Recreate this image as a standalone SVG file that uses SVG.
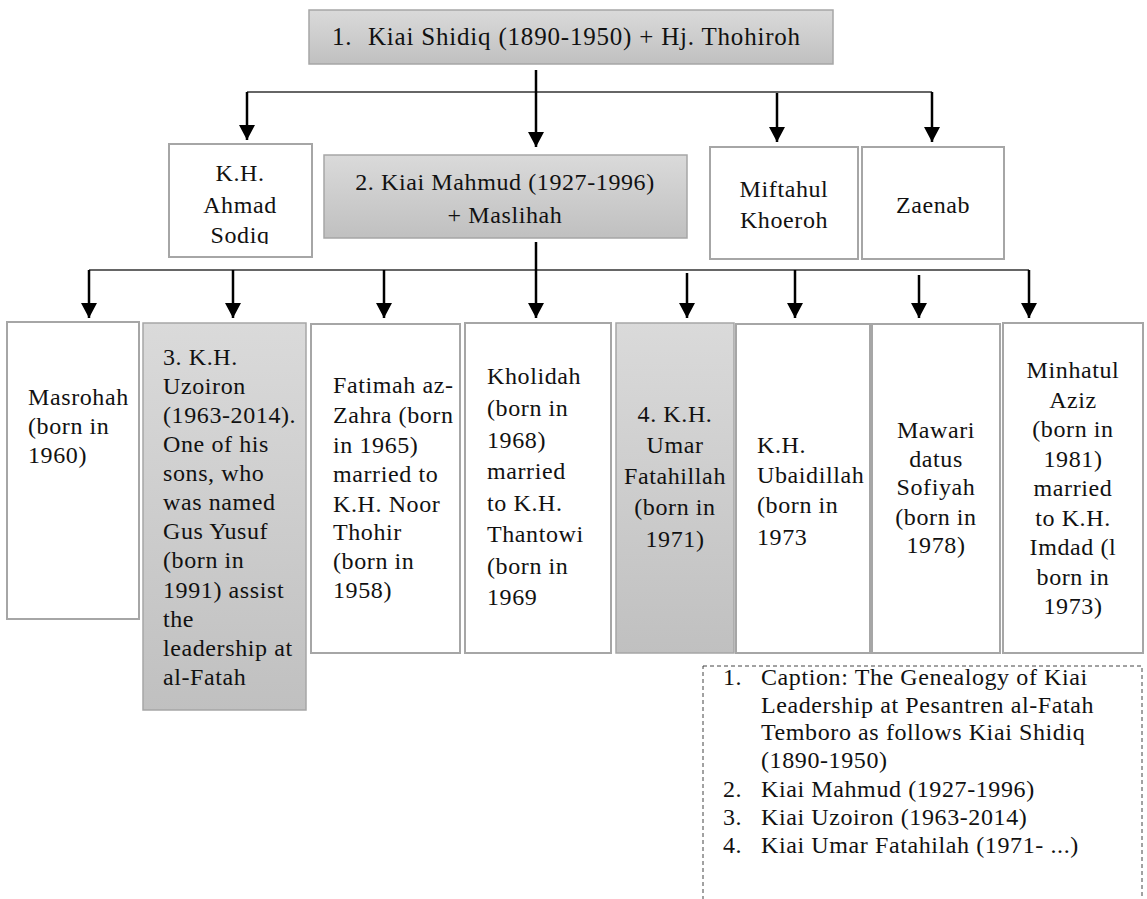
<svg xmlns="http://www.w3.org/2000/svg" width="1147" height="899" viewBox="0 0 1147 899">
<defs>
<linearGradient id="g" x1="0" y1="0" x2="0" y2="1">
<stop offset="0" stop-color="#dadada"/>
<stop offset="1" stop-color="#c0c0c0"/>
</linearGradient>
<marker id="ah" markerUnits="userSpaceOnUse" markerWidth="17" markerHeight="17" refX="15" refY="8" orient="auto">
<path d="M0,0 L15,8 L0,16 z" fill="#000"/>
</marker>
<clipPath id="clipA"><rect x="169" y="144" width="143" height="100"/></clipPath>
</defs>
<style>
.box{fill:#fff;stroke:#a6a6a6;stroke-width:2}
.gbox{fill:url(#g);stroke:#a6a6a6;stroke-width:1.5}
.bus{fill:none;stroke:#333;stroke-width:1.5}
.arr{fill:none;stroke:#000;stroke-width:2.5;marker-end:url(#ah)}
text{font-family:"Liberation Serif","Times New Roman",serif;font-size:24px;fill:#111;letter-spacing:0.6px}
.c{text-anchor:middle}
.title{font-size:25px;letter-spacing:0.8px}
.cap{fill:none;stroke:#444;stroke-width:1;stroke-dasharray:4,3}
</style>
<g id="connectors">
<path class="bus" d="M247,92 H932"/>
<path class="arr" d="M247,92 V140"/>
<path class="arr" d="M536,70 V147"/>
<path class="arr" d="M777,93 V142"/>
<path class="arr" d="M932,92 V142"/>
<path class="bus" d="M89,270 H1029"/>
<path class="arr" d="M536,242 V318"/>
<path class="arr" d="M89,270 V318"/>
<path class="arr" d="M233,270 V318"/>
<path class="arr" d="M384,270 V318"/>
<path class="arr" d="M687,273 V318"/>
<path class="arr" d="M795,270 V318"/>
<path class="arr" d="M919,275 V318"/>
<path class="arr" d="M1029,270 V318"/>
</g>
<g id="n-shidiq">
<rect class="gbox" x="309" y="10" width="524" height="54"/>
<text class="title" x="332" y="45">1.</text>
<text class="title" x="368" y="45">Kiai Shidiq (1890-1950) + Hj. Thohiroh</text>
</g>
<g id="n-ahmad">
<rect class="box" x="169" y="144" width="143" height="113"/>
<g clip-path="url(#clipA)">
<text class="c" x="240" y="181">K.H.</text>
<text class="c" x="240" y="213">Ahmad</text>
<text class="c" x="240" y="243">Sodiq</text>
</g>
</g>
<g id="n-mahmud">
<rect class="gbox" x="324" y="155" width="363" height="83"/>
<text class="c" x="505" y="190">2. Kiai Mahmud (1927-1996)</text>
<text class="c" x="505" y="223">+ Maslihah</text>
</g>
<g id="n-miftahul">
<rect class="box" x="710" y="147" width="148" height="112"/>
<text class="c" x="784" y="197">Miftahul</text>
<text class="c" x="784" y="228">Khoeroh</text>
</g>
<g id="n-zaenab">
<rect class="box" x="862" y="147" width="142" height="112"/>
<text class="c" x="933" y="213">Zaenab</text>
</g>
<g id="n-masrohah">
<rect class="box" x="7" y="322" width="132" height="297"/>
<text x="28" y="405">Masrohah</text>
<text x="28" y="434">(born in</text>
<text x="28" y="463">1960)</text>
</g>
<g id="n-uzoiron">
<rect class="gbox" x="143" y="323" width="163" height="387"/>
<text x="163" y="365">3. K.H.</text>
<text x="163" y="394">Uzoiron</text>
<text x="163" y="423">(1963-2014).</text>
<text x="163" y="452">One of his</text>
<text x="163" y="481">sons, who</text>
<text x="163" y="510">was named</text>
<text x="163" y="539">Gus Yusuf</text>
<text x="163" y="568">(born in</text>
<text x="163" y="598">1991) assist</text>
<text x="163" y="627">the</text>
<text x="163" y="656">leadership at</text>
<text x="163" y="685">al-Fatah</text>
</g>
<g id="n-fatimah">
<rect class="box" x="311" y="324" width="149" height="329"/>
<text x="333" y="393">Fatimah az-</text>
<text x="333" y="423">Zahra (born</text>
<text x="333" y="453">in 1965)</text>
<text x="333" y="482">married to</text>
<text x="333" y="512">K.H. Noor</text>
<text x="333" y="540">Thohir</text>
<text x="333" y="569">(born in</text>
<text x="333" y="598">1958)</text>
</g>
<g id="n-kholidah">
<rect class="box" x="465" y="323" width="146" height="330"/>
<text x="487" y="384">Kholidah</text>
<text x="487" y="416">(born in</text>
<text x="487" y="448">1968)</text>
<text x="487" y="479">married</text>
<text x="487" y="511">to K.H.</text>
<text x="487" y="542">Thantowi</text>
<text x="487" y="574">(born in</text>
<text x="487" y="605">1969</text>
</g>
<g id="n-umar">
<rect class="gbox" x="616" y="323" width="118" height="330"/>
<text class="c" x="675" y="422">4. K.H.</text>
<text class="c" x="675" y="453">Umar</text>
<text class="c" x="675" y="484">Fatahillah</text>
<text class="c" x="675" y="515">(born in</text>
<text class="c" x="675" y="547">1971)</text>
</g>
<g id="n-ubaidillah">
<rect class="box" x="736" y="324" width="134" height="329"/>
<text x="757" y="453">K.H.</text>
<text x="757" y="483">Ubaidillah</text>
<text x="757" y="513">(born in</text>
<text x="757" y="545">1973</text>
</g>
<g id="n-mawari">
<rect class="box" x="872" y="324" width="128" height="329"/>
<text class="c" x="936" y="438">Mawari</text>
<text class="c" x="936" y="467">datus</text>
<text class="c" x="936" y="495">Sofiyah</text>
<text class="c" x="936" y="525">(born in</text>
<text class="c" x="936" y="553">1978)</text>
</g>
<g id="n-minhatul">
<rect class="box" x="1003" y="323" width="140" height="330"/>
<text class="c" x="1073" y="378">Minhatul</text>
<text class="c" x="1073" y="408">Aziz</text>
<text class="c" x="1073" y="437">(born in</text>
<text class="c" x="1073" y="467">1981)</text>
<text class="c" x="1073" y="496">married</text>
<text class="c" x="1073" y="526">to K.H.</text>
<text class="c" x="1073" y="555">Imdad (l</text>
<text class="c" x="1073" y="585">born in</text>
<text class="c" x="1073" y="614">1973)</text>
</g>
<g id="caption">
<rect class="cap" x="703" y="666" width="439" height="245"/>
<text x="723" y="685">1.</text>
<text x="761" y="685">Caption: The Genealogy of Kiai</text>
<text x="761" y="713">Leadership at Pesantren al-Fatah</text>
<text x="761" y="740">Temboro as follows Kiai Shidiq</text>
<text x="761" y="768">(1890-1950)</text>
<text x="723" y="797">2.</text>
<text x="761" y="797">Kiai Mahmud (1927-1996)</text>
<text x="723" y="825">3.</text>
<text x="761" y="825">Kiai Uzoiron (1963-2014)</text>
<text x="723" y="853">4.</text>
<text x="761" y="853">Kiai Umar Fatahilah (1971- ...)</text>
</g>
</svg>
